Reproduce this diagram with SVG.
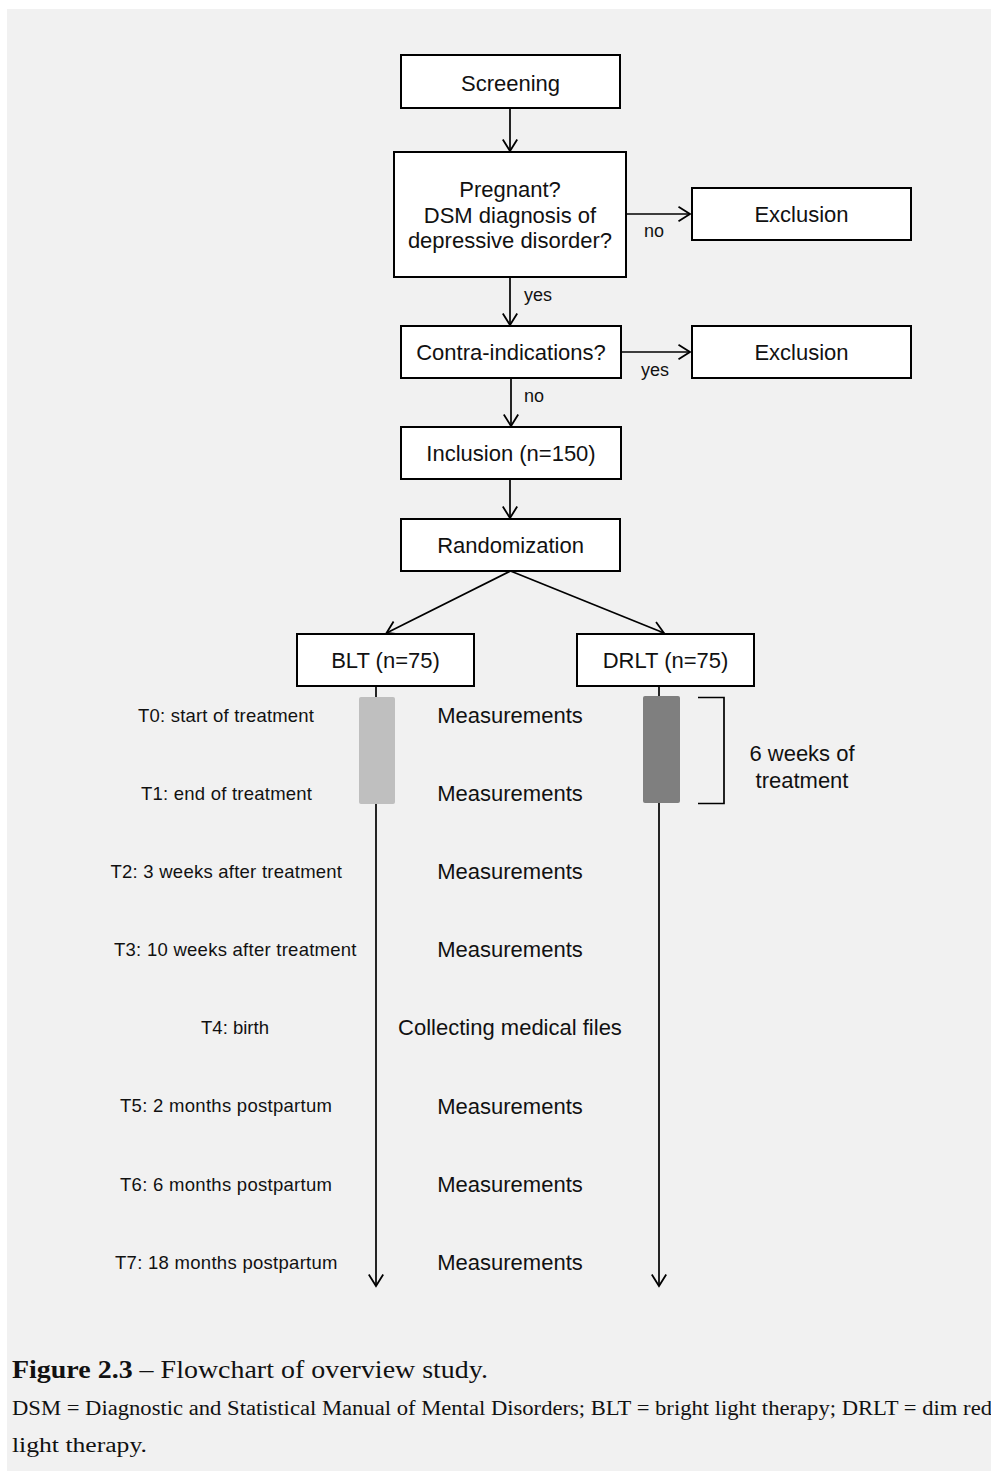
<svg xmlns="http://www.w3.org/2000/svg" width="991" height="1471" viewBox="0 0 991 1471">
<style>
.box{fill:#fff;stroke:#000;stroke-width:2}
.t{font-family:"Liberation Sans",Arial,sans-serif;font-size:22px;fill:#111;text-anchor:middle}
.s{font-family:"Liberation Sans",Arial,sans-serif;font-size:18px;fill:#111}
.lbl{font-family:"Liberation Sans",Arial,sans-serif;font-size:18.5px;fill:#111}
.cap{font-family:"Liberation Serif","DejaVu Serif",serif;fill:#111}
.ln{stroke:#000;stroke-width:1.7;fill:none}
</style>
<defs>
<marker id="arr" markerUnits="userSpaceOnUse" markerWidth="16" markerHeight="18" refX="12" refY="8" orient="auto">
<path d="M0.5,0.8 L12,8 L0.5,15.2" fill="none" stroke="#000" stroke-width="1.8"/>
</marker>
</defs>
<rect x="0" y="0" width="991" height="1471" fill="#fff"/>
<rect x="7" y="9" width="984" height="1462" fill="#f1f1f1"/>

<g id="connectors">
<line class="ln" x1="510" y1="108" x2="510" y2="151" marker-end="url(#arr)"/>
<line class="ln" x1="626" y1="214" x2="690" y2="214" marker-end="url(#arr)"/>
<line class="ln" x1="510" y1="277" x2="510" y2="325" marker-end="url(#arr)"/>
<line class="ln" x1="621" y1="352" x2="690" y2="352" marker-end="url(#arr)"/>
<line class="ln" x1="511" y1="378" x2="511" y2="426" marker-end="url(#arr)"/>
<line class="ln" x1="510" y1="479" x2="510" y2="518" marker-end="url(#arr)"/>
<line class="ln" x1="510.5" y1="571" x2="386.5" y2="633" marker-end="url(#arr)"/>
<line class="ln" x1="510.5" y1="571" x2="664" y2="633" marker-end="url(#arr)"/>
<line class="ln" x1="376" y1="686" x2="376" y2="697"/>
<line class="ln" x1="376" y1="804" x2="376" y2="1286" marker-end="url(#arr)"/>
<line class="ln" x1="659" y1="686" x2="659" y2="696"/>
<line class="ln" x1="659" y1="803" x2="659" y2="1286" marker-end="url(#arr)"/>
<path class="ln" d="M698,697.5 H724 V803.5 H698"/>
<text class="s" x="644" y="237">no</text>
<text class="s" x="524" y="301">yes</text>
<text class="s" x="641" y="376">yes</text>
<text class="s" x="524" y="402">no</text>
</g>

<g id="screening"><rect class="box" x="401" y="55" width="219" height="53"/><text class="t" x="510.5" y="90.5">Screening</text></g>
<g id="pregnant"><rect class="box" x="394" y="152" width="232" height="125"/>
<text class="t" x="510" y="196.5">Pregnant?</text>
<text class="t" x="510" y="222.5">DSM diagnosis of</text>
<text class="t" x="510" y="248">depressive disorder?</text></g>
<g id="exclusion1"><rect class="box" x="692" y="188" width="219" height="52"/><text class="t" x="801.5" y="221.5">Exclusion</text></g>
<g id="contra"><rect class="box" x="401" y="326" width="220" height="52"/><text class="t" x="511" y="360">Contra-indications?</text></g>
<g id="exclusion2"><rect class="box" x="692" y="326" width="219" height="52"/><text class="t" x="801.5" y="360">Exclusion</text></g>
<g id="inclusion"><rect class="box" x="401" y="427" width="220" height="52"/><text class="t" x="511" y="461">Inclusion (n=150)</text></g>
<g id="randomization"><rect class="box" x="401" y="519" width="219" height="52"/><text class="t" x="510.5" y="553">Randomization</text></g>
<g id="blt"><rect class="box" x="297" y="634" width="177" height="52"/><text class="t" x="385.5" y="668">BLT (n=75)</text></g>
<g id="drlt"><rect class="box" x="577" y="634" width="177" height="52"/><text class="t" x="665.5" y="668">DRLT (n=75)</text></g>
<g id="blt-bar"><rect x="359" y="697" width="36" height="107" rx="2" fill="#bfbfbf"/></g>
<g id="drlt-bar"><rect x="643" y="696" width="37" height="107" rx="2" fill="#7f7f7f"/></g>
<g id="duration"><text class="t" x="802" y="761">6 weeks of</text><text class="t" x="802" y="787.5">treatment</text></g>

<g id="timepoints">
<text class="lbl" x="138" y="721.5" textLength="176" lengthAdjust="spacing">T0: start of treatment</text>
<text class="lbl" x="141" y="800" textLength="171" lengthAdjust="spacing">T1: end of treatment</text>
<text class="lbl" x="110.5" y="878" textLength="231.5" lengthAdjust="spacing">T2: 3 weeks after treatment</text>
<text class="lbl" x="114" y="956" textLength="242.5" lengthAdjust="spacing">T3: 10 weeks after treatment</text>
<text class="lbl" x="201" y="1033.5" textLength="68" lengthAdjust="spacing">T4: birth</text>
<text class="lbl" x="120" y="1112" textLength="212" lengthAdjust="spacing">T5: 2 months postpartum</text>
<text class="lbl" x="120" y="1190.5" textLength="212" lengthAdjust="spacing">T6: 6 months postpartum</text>
<text class="lbl" x="115" y="1268.5" textLength="222.5" lengthAdjust="spacing">T7: 18 months postpartum</text>
</g>
<g id="activities">
<text class="t" x="510" y="722.5">Measurements</text>
<text class="t" x="510" y="800.5">Measurements</text>
<text class="t" x="510" y="878.5">Measurements</text>
<text class="t" x="510" y="957">Measurements</text>
<text class="t" x="510" y="1035">Collecting medical files</text>
<text class="t" x="510" y="1113.5">Measurements</text>
<text class="t" x="510" y="1191.5">Measurements</text>
<text class="t" x="510" y="1269.5">Measurements</text>
</g>

<g id="caption">
<text class="cap" x="12" y="1378" font-size="25" textLength="476" lengthAdjust="spacingAndGlyphs"><tspan font-weight="bold">Figure 2.3</tspan> – Flowchart of overview study.</text>
<text class="cap" x="12" y="1414.5" font-size="20" textLength="980" lengthAdjust="spacingAndGlyphs">DSM = Diagnostic and Statistical Manual of Mental Disorders; BLT = bright light therapy; DRLT = dim red</text>
<text class="cap" x="12" y="1451.5" font-size="20" textLength="135" lengthAdjust="spacingAndGlyphs">light therapy.</text>
</g>
</svg>
